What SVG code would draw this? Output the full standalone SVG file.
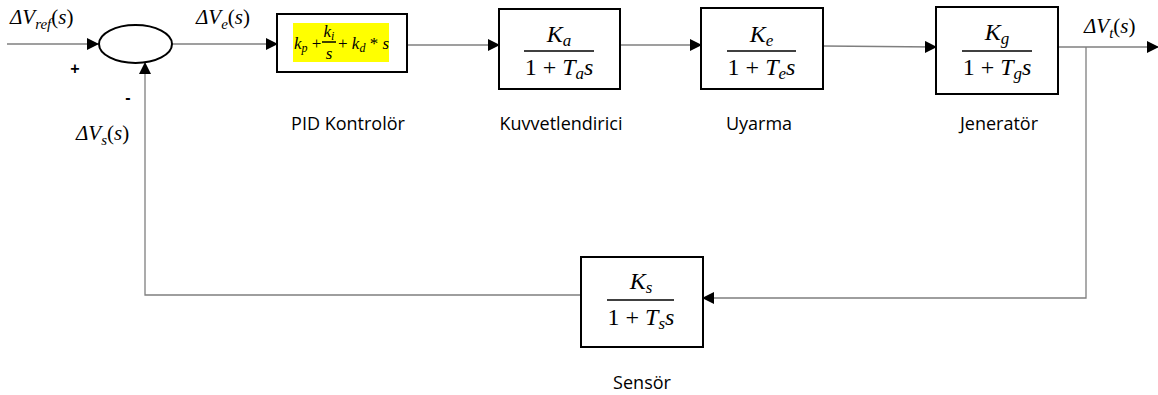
<svg xmlns="http://www.w3.org/2000/svg" width="1158" height="395" viewBox="0 0 1158 395">
<defs>
<style>
.blk{fill:#fff;stroke:#000;stroke-width:2}
.ln{fill:none;stroke:#7f7f7f;stroke-width:1.3}
.bar{stroke:#000;stroke-width:1.5}
.m{font-family:"Liberation Serif","DejaVu Serif",serif;font-style:italic;fill:#000}
.up{font-style:normal}
.lbl{font-family:"Open Sans","Noto Sans",sans-serif;font-size:18px;fill:#000}
.sg{font-family:"Liberation Sans",Arial,sans-serif;font-size:16px;font-weight:bold;fill:#000}
</style>
<marker id="ah" markerWidth="12" markerHeight="12" refX="11" refY="6" orient="auto" markerUnits="userSpaceOnUse">
<path d="M0,0 L12,6 L0,12 z" fill="#000"/>
</marker>
</defs>
<rect width="1158" height="395" fill="#fff"/>

<g id="connectors">
<path class="ln" d="M7,44 H98" marker-end="url(#ah)"/>
<path class="ln" d="M172,44 H277" marker-end="url(#ah)"/>
<path class="ln" d="M407,45 H499" marker-end="url(#ah)"/>
<path class="ln" d="M620,45 H701" marker-end="url(#ah)"/>
<path class="ln" d="M823,46 L936,47" marker-end="url(#ah)"/>
<path class="ln" d="M1058,47 H1158" marker-end="url(#ah)"/>
<path class="ln" d="M1086,47 V298 H703" marker-end="url(#ah)"/>
<path class="ln" d="M581,295 H145 V63" marker-end="url(#ah)"/>
</g>

<g id="sum">
<ellipse cx="135.5" cy="44" rx="36.5" ry="19" fill="#fff" stroke="#000" stroke-width="2"/>
<text class="sg" x="75" y="74" text-anchor="middle">+</text>
<text class="sg" x="128" y="103" text-anchor="middle">-</text>
</g>

<g id="sig-labels" class="m" font-size="21">
<text x="10" y="24">ΔV<tspan dy="5" font-size="15">ref</tspan><tspan dy="-5" class="up">(</tspan>s<tspan class="up">)</tspan></text>
<text x="196" y="24">ΔV<tspan dy="5" font-size="15">e</tspan><tspan dy="-5" class="up">(</tspan>s<tspan class="up">)</tspan></text>
<text x="76" y="140">ΔV<tspan dy="5" font-size="15">s</tspan><tspan dy="-5" class="up">(</tspan>s<tspan class="up">)</tspan></text>
<text x="1084" y="33">ΔV<tspan dy="5" font-size="15">t</tspan><tspan dy="-5" class="up">(</tspan>s<tspan class="up">)</tspan></text>
</g>

<g id="pid">
<rect class="blk" x="277" y="14" width="130" height="58"/>
<rect x="293" y="23" width="96" height="39" fill="#ffff00"/>
<g class="m" font-size="17">
<text x="294" y="49">k<tspan dy="3" font-size="12">p</tspan><tspan dy="-3" class="up"> +</tspan></text>
<text x="329" y="37" text-anchor="middle">k<tspan dy="3" font-size="12">i</tspan></text>
<text x="329" y="59" text-anchor="middle">s</text>
<text x="338" y="49"><tspan class="up">+ </tspan>k<tspan dy="3" font-size="12">d</tspan><tspan dy="-3" class="up"> * </tspan>s</text>
</g>
<line class="bar" x1="322" y1="42" x2="336" y2="42" stroke-width="1"/>
<text class="lbl" x="348" y="130" text-anchor="middle">PID Kontrolör</text>
</g>

<g id="ka">
<rect class="blk" x="499" y="9" width="121" height="80"/>
<g class="m" font-size="24">
<text x="559" y="42" text-anchor="middle">K<tspan dy="4" font-size="17">a</tspan></text>
<text x="559" y="75" text-anchor="middle"><tspan class="up">1 + </tspan>T<tspan dy="4" font-size="17">a</tspan><tspan dy="-4">s</tspan></text>
</g>
<line class="bar" x1="524" y1="51" x2="594" y2="51"/>
<text class="lbl" x="561" y="130" text-anchor="middle">Kuvvetlendirici</text>
</g>

<g id="ke">
<rect class="blk" x="701" y="8" width="122" height="81"/>
<g class="m" font-size="24">
<text x="761.5" y="42" text-anchor="middle">K<tspan dy="4" font-size="17">e</tspan></text>
<text x="761.5" y="75" text-anchor="middle"><tspan class="up">1 + </tspan>T<tspan dy="4" font-size="17">e</tspan><tspan dy="-4">s</tspan></text>
</g>
<line class="bar" x1="727" y1="51" x2="796" y2="51"/>
<text class="lbl" x="759" y="130" text-anchor="middle">Uyarma</text>
</g>

<g id="kg">
<rect class="blk" x="936" y="7" width="122" height="87"/>
<g class="m" font-size="24">
<text x="997" y="40" text-anchor="middle">K<tspan dy="4" font-size="17">g</tspan></text>
<text x="997" y="75" text-anchor="middle"><tspan class="up">1 + </tspan>T<tspan dy="4" font-size="17">g</tspan><tspan dy="-4">s</tspan></text>
</g>
<line class="bar" x1="962" y1="51" x2="1032" y2="51"/>
<text class="lbl" x="999" y="130" text-anchor="middle">Jeneratör</text>
</g>

<g id="ks">
<rect class="blk" x="581" y="257" width="122" height="90"/>
<g class="m" font-size="24">
<text x="641" y="289" text-anchor="middle">K<tspan dy="4" font-size="17">s</tspan></text>
<text x="641" y="325" text-anchor="middle"><tspan class="up">1 + </tspan>T<tspan dy="4" font-size="17">s</tspan><tspan dy="-4">s</tspan></text>
</g>
<line class="bar" x1="607" y1="300" x2="674" y2="300"/>
<text class="lbl" x="642" y="389" text-anchor="middle">Sensör</text>
</g>
</svg>
